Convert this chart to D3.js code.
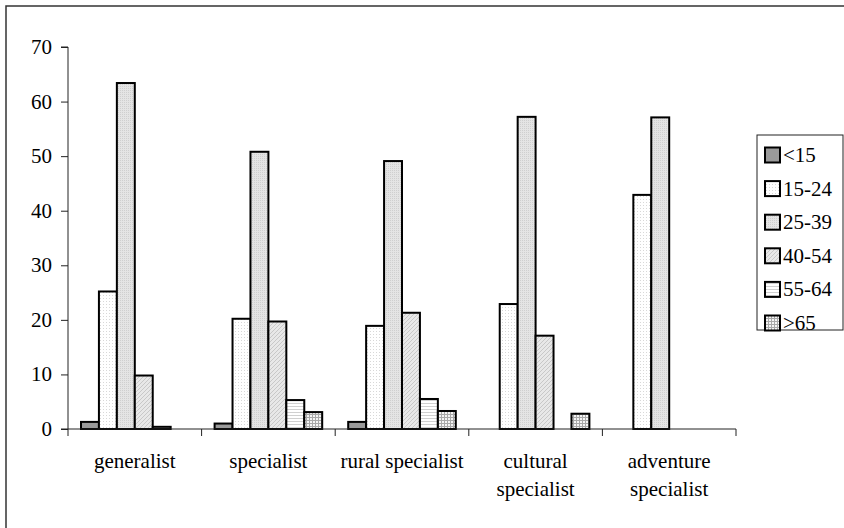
<!DOCTYPE html>
<html><head><meta charset="utf-8">
<script src="https://cdn.jsdelivr.net/npm/d3@7"></script>
<style>body{margin:0;background:#fff}svg{display:block}</style>
</head><body><svg id="c" width="844" height="528"></svg>
<script>
const categories = [["generalist"],["specialist"],["rural specialist"],["cultural","specialist"],["adventure","specialist"]];
const seriesNames = ["<15","15-24","25-39","40-54","55-64",">65"];
const lt15   = [1.3, 1.0, 1.3, 0, 0];
const a15_24 = [25.2, 20.2, 18.9, 22.9, 42.9];
const a25_39 = [63.4, 50.8, 49.1, 57.2, 57.1];
const a40_54 = [9.8, 19.7, 21.3, 17.1, 0];
const a55_64 = [0.4, 5.3, 5.5, 0, 0];
const gt65   = [0, 3.1, 3.3, 2.8, 0];
const seriesValues = [lt15, a15_24, a25_39, a40_54, a55_64, gt65];
const yTicks = [0,10,20,30,40,50,60,70];

const FONT = "Liberation Serif";
const svg = d3.select("#c");
const defs = svg.append("defs");
function pat(id, size, bg, draw){
  const p = defs.append("pattern").attr("id",id).attr("patternUnits","userSpaceOnUse").attr("width",size).attr("height",size);
  p.append("rect").attr("width",size).attr("height",size).attr("fill",bg);
  draw(p);
}
pat("p0",4,"#9a9a9a",p=>{});
pat("p1",3,"#ffffff",p=>{p.append("rect").attr("x",1).attr("y",1).attr("width",1).attr("height",1).attr("fill","#d8d8d8");});
pat("p2",2,"#e4e4e4",p=>{p.append("rect").attr("width",1).attr("height",1).attr("fill","#cfcfcf");});
pat("p3",4,"#e8e8e8",p=>{p.append("path").attr("d","M0,4L4,0M-1,1L1,-1M3,5L5,3").attr("stroke","#c8c8c8").attr("stroke-width",1);});
pat("p4",3,"#ffffff",p=>{p.append("rect").attr("y",1).attr("width",3).attr("height",1).attr("fill","#d0d0d0");});
pat("p5",3,"#f4f4f4",p=>{p.append("rect").attr("width",3).attr("height",1).attr("fill","#a8a8a8");p.append("rect").attr("width",1).attr("height",3).attr("fill","#a8a8a8");});
const fills = ["url(#p0)","url(#p1)","url(#p2)","url(#p3)","url(#p4)","url(#p5)"];

svg.append("rect").attr("x",6).attr("y",6).attr("width",846).attr("height",536).attr("fill","none").attr("stroke","#333").attr("stroke-width",1.5);

const x0 = d3.scaleBand().domain(d3.range(categories.length)).range([68,736]).paddingInner(0).paddingOuter(0);
const gap = 13;
const x1 = d3.scaleBand().domain(d3.range(seriesNames.length)).range([gap, x0.bandwidth()-gap]);
const y = d3.scaleLinear().domain([0,70]).range([429,47]);

function label(x, yy, txt, anchor){
  return svg.append("text").attr("x",x).attr("y",yy).attr("text-anchor",anchor||"start")
    .attr("font-size",21).style("font-family",FONT).attr("fill","#000").text(txt);
}

// y axis (lines via d3 axis, labels placed from the same scale)
const ya = svg.append("g").attr("transform","translate(68,0)").call(d3.axisLeft(y).tickValues(yTicks).tickSize(7).tickFormat(""));
ya.select(".domain").attr("stroke","#222").attr("d","M-7,47H0V429H-7");
ya.selectAll(".tick line").attr("stroke","#222");
yTicks.forEach(t=>label(52, y(t)+7, d3.format("d")(t), "end"));

// bars
categories.forEach((c,i)=>{
  seriesValues.forEach((vals,s)=>{
    const v = vals[i];
    if(!v) return;
    svg.append("rect")
      .attr("x", x0(i)+x1(s)).attr("width", x1.bandwidth())
      .attr("y", y(v)).attr("height", y(0)-y(v))
      .attr("fill", fills[s]).attr("stroke","#000").attr("stroke-width",2);
  });
});

// x axis
svg.append("line").attr("x1",68).attr("x2",736).attr("y1",429).attr("y2",429).attr("stroke","#222");
d3.range(categories.length+1).forEach(i=>{
  const xx = i<categories.length ? x0(i) : x0(categories.length-1)+x0.bandwidth();
  svg.append("line").attr("x1",xx).attr("x2",xx).attr("y1",429).attr("y2",436).attr("stroke","#222");
});
categories.forEach((c,i)=>{
  c.forEach((line,k)=>label(x0(i)+x0.bandwidth()/2, 468+k*28, line, "middle"));
});

// legend
svg.append("rect").attr("x",757).attr("y",135).attr("width",86).attr("height",195).attr("fill","#fff").attr("stroke","#222").attr("stroke-width",1);
seriesNames.forEach((n,s)=>{
  const cy = 155 + s*33.6;
  svg.append("rect").attr("x",765).attr("y",cy-7.5).attr("width",15).attr("height",15).attr("fill",fills[s]).attr("stroke","#000").attr("stroke-width",2);
  label(783, cy+7, n);
});
</script></body></html>
